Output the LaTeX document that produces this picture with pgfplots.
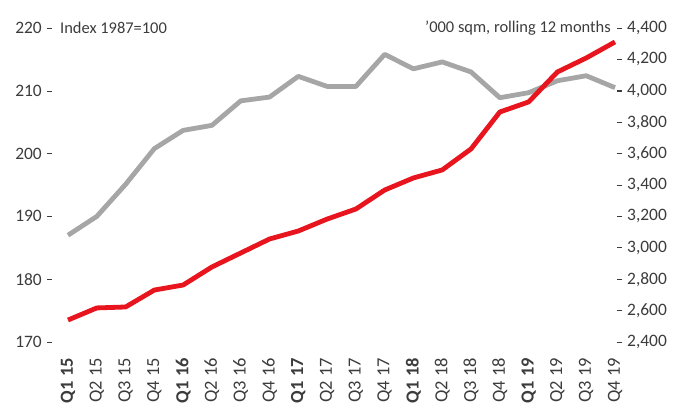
\documentclass[border=0pt]{standalone}
\usepackage{pgfplots}
\pgfplotsset{compat=1.18}
\usepackage{fontspec}
\setmainfont{Carlito}

\definecolor{idxgrey}{RGB}{166,166,166}
\definecolor{areared}{RGB}{232,20,30}
\definecolor{labelgrey}{RGB}{60,60,60}

% quarterly series, Q1 2015 .. Q4 2019
\pgfplotstableread{
q  idx    sqm
0  187.0  2540
1  190.0  2617
2  195.1  2623
3  200.8  2731
4  203.7  2763
5  204.5  2878
6  208.4  2967
7  209.0  3056
8  212.3  3107
9  210.7  3183
10 210.7  3247
11 215.8  3368
12 213.5  3445
13 214.6  3496
14 213.0  3630
15 208.9  3865
16 209.7  3929
17 211.6  4120
18 212.4  4209
19 210.5  4311
}\quarterly

\pgfplotsset{
  base/.style={
    scale only axis,
    width=565bp, height=314bp,
    at={(0,0)}, anchor=south west,
    xmin=-0.556, xmax=19.07,
    axis line style={draw=none},
    tick align=outside,
    major tick length=5bp,
    tick style={labelgrey, line width=0.6bp},
    tick label style={font=\fontsize{17.5}{20}\selectfont, text=labelgrey},
    /pgf/number format/assume math mode=true,
    clip=false,
  },
}

\begin{document}
\begin{tikzpicture}
\begin{axis}[base,
  ymin=170, ymax=220,
  ytick={170,180,...,220},
  yticklabel style={inner sep=0pt, xshift=-5bp},
  xtick={0,...,19},
  xticklabels={\textbf{Q1 15},Q2 15,Q3 15,Q4 15,\textbf{Q1 16},Q2 16,Q3 16,Q4 16,\textbf{Q1 17},Q2 17,Q3 17,Q4 17,\textbf{Q1 18},Q2 18,Q3 18,Q4 18,\textbf{Q1 19},Q2 19,Q3 19,Q4 19},
  x tick style={draw=none},
  xticklabel style={rotate=90, anchor=east, inner sep=0pt, font=\fontsize{18.5}{21}\selectfont},
  xticklabel shift=11bp,
]
\addplot[idxgrey, line width=4.8bp, line join=round] table[x=q, y=idx] {\quarterly};
\node[anchor=west, font=\fontsize{16.5}{19}\selectfont, text=labelgrey, inner sep=0pt]
  at (rel axis cs:0,1) [xshift=8bp] {Index 1987=100};
\node[anchor=east, font=\fontsize{16.5}{19}\selectfont, text=labelgrey, inner sep=0pt]
  at (rel axis cs:1,1) [xshift=-6bp] {'000 sqm, rolling 12 months};
\end{axis}
\begin{axis}[base,
  ymin=2400, ymax=4400,
  ytick={2400,2600,...,4400},
  axis y line*=right,
  axis x line=none,
  yticklabel style={inner sep=0pt, xshift=5bp,
    /pgf/number format/.cd, fixed, 1000 sep={,}},
]
\addplot[areared, line width=4.8bp, line join=round] table[x=q, y=sqm] {\quarterly};
\end{axis}
\pgfresetboundingbox
\path (-52bp,-68bp) rectangle (639bp,342bp);
\end{tikzpicture}
\end{document}
